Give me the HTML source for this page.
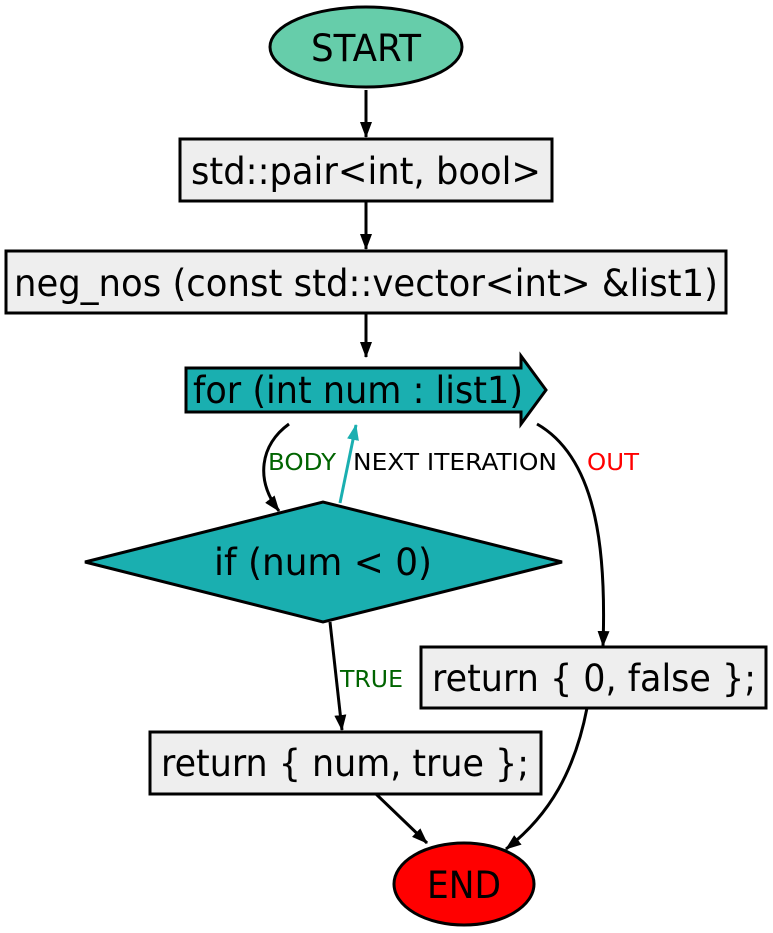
<!DOCTYPE html>
<html><head><meta charset="utf-8"><style>body{margin:0;background:#fff}svg{display:block}</style></head>
<body>
<svg width="773" height="933" viewBox="0 0 773 933" xmlns="http://www.w3.org/2000/svg" font-family="'DejaVu Sans','Liberation Sans',sans-serif">
<defs>
<marker id="a" markerWidth="16" markerHeight="12" refX="15" refY="6" orient="auto" markerUnits="userSpaceOnUse"><path d="M0,0 L16,6 L0,12 z" fill="#000"/></marker>
<marker id="t" markerWidth="16" markerHeight="12" refX="15" refY="6" orient="auto" markerUnits="userSpaceOnUse"><path d="M0,0 L16,6 L0,12 z" fill="#1aafb0"/></marker>
</defs>
<g stroke="#000" stroke-width="3">
<ellipse cx="366" cy="47" rx="96" ry="40" fill="#66cdaa"/>
<rect x="180" y="139" width="372" height="62" fill="#eeeeee"/>
<rect x="6" y="251" width="720" height="62" fill="#eeeeee"/>
<path d="M186,368 L521,368 L521,356 L546,390 L521,424 L521,412 L186,412 Z" fill="#1aafb0"/>
<path d="M85,562 L323,502 L562,562 L323,622 Z" fill="#1aafb0"/>
<rect x="421" y="647" width="345" height="61" fill="#eeeeee"/>
<rect x="150" y="732" width="391" height="62" fill="#eeeeee"/>
<ellipse cx="464" cy="884" rx="70" ry="41" fill="#ff0000"/>
</g>
<g stroke="#000" stroke-width="3" fill="none">
<line x1="366" y1="90" x2="366" y2="137" marker-end="url(#a)"/>
<line x1="366" y1="201" x2="366" y2="249" marker-end="url(#a)"/>
<line x1="366" y1="313" x2="366" y2="357" marker-end="url(#a)"/>
<path d="M289,424 C260,445 255,480 279,511" marker-end="url(#a)"/>
<path d="M537,424 C600,460 606,560 603,646" marker-end="url(#a)"/>
<line x1="330" y1="622" x2="342" y2="730" marker-end="url(#a)"/>
<line x1="376" y1="794" x2="427" y2="843" marker-end="url(#a)"/>
<path d="M587,708 C575,770 550,815 506,849" marker-end="url(#a)"/>
</g>
<line x1="340" y1="503" x2="356" y2="425" stroke="#1aafb0" stroke-width="3" marker-end="url(#t)"/>
<g font-size="37" fill="#000" text-anchor="middle">
<text x="366" y="61" textLength="110" lengthAdjust="spacingAndGlyphs">START</text>
<text x="366" y="184" textLength="350" lengthAdjust="spacingAndGlyphs">std::pair&lt;int, bool&gt;</text>
<text x="366" y="296" textLength="704" lengthAdjust="spacingAndGlyphs">neg_nos (const std::vector&lt;int&gt; &amp;list1)</text>
<text x="358" y="403" textLength="330" lengthAdjust="spacingAndGlyphs">for (int num : list1)</text>
<text x="323" y="575" textLength="218" lengthAdjust="spacingAndGlyphs">if (num &lt; 0)</text>
<text x="594" y="691" textLength="324" lengthAdjust="spacingAndGlyphs">return { 0, false };</text>
<text x="345" y="776" textLength="368" lengthAdjust="spacingAndGlyphs">return { num, true };</text>
<text x="464" y="898" textLength="74" lengthAdjust="spacingAndGlyphs">END</text>
</g>
<g font-size="23">
<text x="268" y="470" fill="#006400" textLength="68" lengthAdjust="spacingAndGlyphs">BODY</text>
<text x="353" y="470" fill="#000" textLength="204" lengthAdjust="spacingAndGlyphs">NEXT ITERATION</text>
<text x="587" y="470" fill="#ff0000" textLength="52" lengthAdjust="spacingAndGlyphs">OUT</text>
<text x="340" y="687" fill="#006400" textLength="63" lengthAdjust="spacingAndGlyphs">TRUE</text>
</g>
</svg>
</body></html>
